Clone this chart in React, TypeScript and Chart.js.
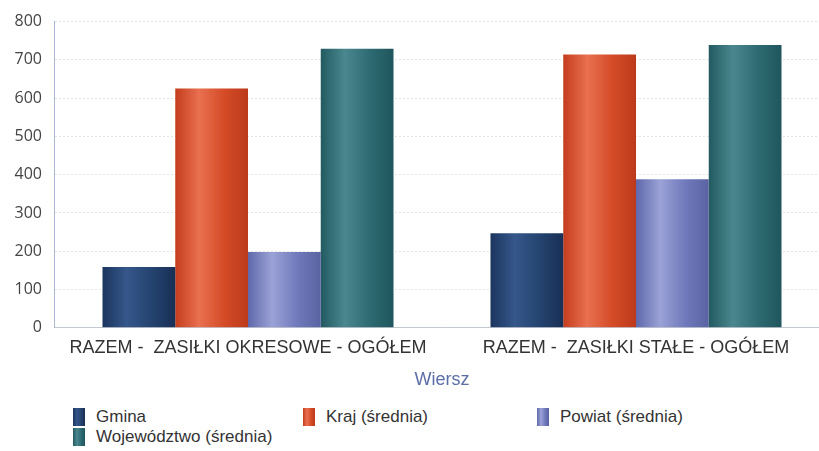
import React, { useEffect, useRef } from "react";
import { Chart, registerables } from "chart.js";

Chart.register(...registerables);

const categories = [
  "RAZEM -  ZASIŁKI OKRESOWE - OGÓŁEM",
  "RAZEM -  ZASIŁKI STAŁE - OGÓŁEM",
];
const seriesNames = ["Gmina", "Kraj (średnia)", "Powiat (średnia)", "Województwo (średnia)"];
const gmina = [159, 247];
const kraj = [625, 714];
const powiat = [198, 388];
const wojewodztwo = [729, 739];
const yTicks = [0, 100, 200, 300, 400, 500, 600, 700, 800];
const axisTitle = "Wiersz";

const seriesValues = [gmina, kraj, powiat, wojewodztwo];
const seriesStops: string[][] = [
  ["#1b355e", "#35578a", "#24436f", "#192f55"],
  ["#c43d1d", "#e97050", "#d44b26", "#bc3a1b"],
  ["#5f68ab", "#9ba2d6", "#7079bb", "#5a63a2"],
  ["#235a62", "#4a878e", "#2d6a71", "#20565e"],
];
const stopPos = [0, 0.33, 0.68, 1];

const legendPos = [
  { left: 73, top: 408 },
  { left: 303, top: 408 },
  { left: 537, top: 408 },
  { left: 73, top: 428 },
];

const gradientPlugin = {
  id: "cylGradient",
  beforeDatasetsDraw(chart: any) {
    const ctx = chart.ctx;
    chart.data.datasets.forEach((_ds: any, di: number) => {
      const meta = chart.getDatasetMeta(di);
      const stops = seriesStops[di];
      meta.data.forEach((bar: any) => {
        const { x, width } = bar.getProps(["x", "width"], true);
        const g = ctx.createLinearGradient(x - width / 2, 0, x + width / 2, 0);
        stops.forEach((c, i) => g.addColorStop(stopPos[i], c));
        bar.options = Object.assign({}, bar.options, { backgroundColor: g });
      });
    });
  },
};

function swatch(i: number) {
  const s = seriesStops[i];
  return `linear-gradient(to right, ${s[0]} 0%, ${s[1]} 33%, ${s[2]} 68%, ${s[3]} 100%)`;
}

export default function App() {
  const ref = useRef<HTMLCanvasElement | null>(null);
  useEffect(() => {
    if (!ref.current) return;
    const chart = new Chart(ref.current, {
      type: "bar",
      data: {
        labels: categories,
        datasets: seriesNames.map((name, i) => ({
          label: name,
          data: seriesValues[i],
          backgroundColor: seriesStops[i][2],
          borderWidth: 0,
          categoryPercentage: 0.75,
          barPercentage: 1.0,
        })),
      },
      options: {
        responsive: false,
        animation: false,
        devicePixelRatio: 1,
        layout: { padding: { left: 0, right: 0, top: 17, bottom: 9 } },
        plugins: {
          legend: { display: false },
          tooltip: { enabled: false },
        },
        scales: {
          x: {
            grid: { display: false, drawTicks: false },
            border: { display: true, color: "#c4c8d0", width: 1 },
            ticks: {
              padding: 9,
              color: "#333",
              font: { family: "'Liberation Sans', Arial, sans-serif", size: 18 },
              maxRotation: 0,
              autoSkip: false,
            },
            title: {
              display: true,
              text: axisTitle,
              color: "#5b6ea8",
              font: { family: "'Liberation Sans', Arial, sans-serif", size: 18 },
              padding: { top: 2, bottom: 0 },
            },
          },
          y: {
            min: 0,
            max: 800,
            afterFit: (s: any) => {
              s.width = 54;
            },
            afterBuildTicks: (s: any) => {
              s.ticks = yTicks.map((v) => ({ value: v }));
            },
            grid: {
              color: "rgba(200,206,218,0.55)",
              drawTicks: false,
            },
            border: { display: true, color: "#a9b9d2", dash: [2, 2], width: 1 },
            ticks: {
              padding: 12,
              color: "#444",
              font: { family: "'Open Sans', sans-serif", size: 16 },
            },
          },
        },
      },
      plugins: [gradientPlugin],
    });
    return () => chart.destroy();
  }, []);

  return (
    <div
      style={{
        position: "fixed",
        left: 0,
        top: 0,
        width: 819,
        height: 451,
        overflow: "hidden",
        background: "#fff",
      }}
    >
      <canvas ref={ref} width={830} height={400} style={{ display: "block", position: "absolute", left: 0, top: 0 }} />
      {seriesNames.map((name, i) => (
        <div
          key={name}
          style={{
            position: "absolute",
            left: legendPos[i].left,
            top: legendPos[i].top,
            height: 18,
            display: "flex",
            alignItems: "center",
            whiteSpace: "nowrap",
          }}
        >
          <span style={{ display: "inline-block", width: 12, height: 18, background: swatch(i) }} />
          <span
            style={{
              marginLeft: 11,
              fontFamily: "'Liberation Sans', Arial, sans-serif",
              fontSize: 17,
              color: "#333",
              lineHeight: "18px",
            }}
          >
            {name}
          </span>
        </div>
      ))}
    </div>
  );
}
